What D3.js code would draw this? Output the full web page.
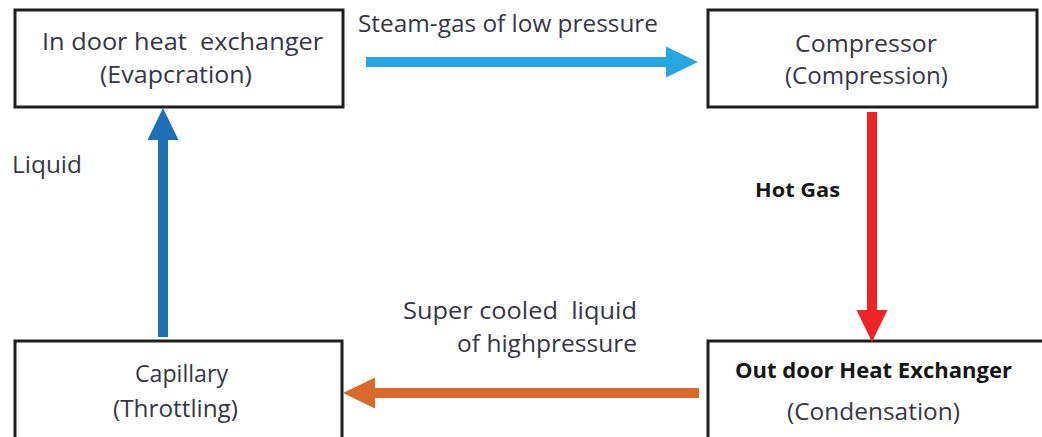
<!DOCTYPE html>
<html><head><meta charset="utf-8">
<script src="https://cdn.jsdelivr.net/npm/d3@7"></script>
<style>html,body{margin:0;padding:0;background:#fff;overflow:hidden}</style>
</head><body>
<svg id="c" width="1042" height="437"></svg>
<script>
// ---- data ----
const nodeNames = ["In door heat  exchanger", "Compressor", "Out door Heat Exchanger", "Capillary"];
const nodeProcesses = ["(Evapcration)", "(Compression)", "(Condensation)", "(Throttling)"];
const flowFrom = [0, 1, 2, 3];
const flowTo = [1, 2, 3, 0];
const flowLabels = [["Steam-gas of low pressure"], ["Hot Gas"], ["Super cooled  liquid", "of highpressure"], ["Liquid"]];

// ---- layout (positions / styles) ----
const svg = d3.select("#c");
const colX = d3.scaleOrdinal().domain([0, 1]).range([15, 708]);
const rowY = d3.scaleOrdinal().domain([0, 1]).range([10, 341]);
const nodeCell = [[0, 0], [1, 0], [1, 1], [0, 1]];
const nodeW = [328, 329, 345, 327];
const nodeH = [97, 97, 120, 120];
const nodeBold = [false, false, true, false];
const titleBox = [[42, 50, 281], [795, 52, 142], [735, 378, 277], [135, 382, 93]];
const procBox = [[100, 83, 152], [785, 84, 163], [787, 420, 173], [113, 417, 125]];
const textCol = "#363646";
const boldCol = "#161616";

const flowColor = ["#27a6e0", "#ee2326", "#d9692c", "#1d6fb6"];
const flowPts = [[[366, 62], [698, 62]], [[872, 112], [872, 342]], [[699, 393], [343, 393]], [[163, 337], [163, 108]]];
const flowBold = [false, true, false, false];
const flowText = [[[358, 32, 300]], [[755, 197, 85]], [[403, 319, 234], [457, 352, 180]], [[12, 173, 70]]];

// boxes
nodeNames.forEach((n, i) => {
  const [c, r] = nodeCell[i];
  svg.append("rect")
    .attr("x", colX(c)).attr("y", rowY(r))
    .attr("width", nodeW[i]).attr("height", nodeH[i])
    .attr("fill", "#fff").attr("stroke", "#1e1e1e").attr("stroke-width", 3);
  const t = titleBox[i], p = procBox[i];
  svg.append("text").text(n)
    .attr("x", t[0]).attr("y", t[1])
    .attr("textLength", t[2]).attr("lengthAdjust", "spacingAndGlyphs")
    .style("white-space", "pre")
    .attr("font-family", "Open Sans").attr("font-size", nodeBold[i] ? 21 : 23)
    .attr("font-weight", nodeBold[i] ? "bold" : "normal")
    .attr("fill", nodeBold[i] ? boldCol : textCol);
  svg.append("text").text(nodeProcesses[i])
    .attr("x", p[0]).attr("y", p[1])
    .attr("textLength", p[2]).attr("lengthAdjust", "spacingAndGlyphs")
    .attr("font-family", "Open Sans").attr("font-size", 23)
    .attr("fill", textCol);
});

// arrows
const shaftW = 10, headL = 32, headW = 31;
flowFrom.forEach((f, i) => {
  const [[x1, y1], [x2, y2]] = flowPts[i];
  const dx = x2 - x1, dy = y2 - y1, L = Math.hypot(dx, dy);
  const ux = dx / L, uy = dy / L, px = -uy, py = ux;
  const bx = x2 - ux * headL, by = y2 - uy * headL;
  svg.append("path")
    .attr("d", d3.line()([[x1, y1], [bx + ux * 2, by + uy * 2]]))
    .attr("stroke", flowColor[i]).attr("stroke-width", shaftW).attr("fill", "none");
  svg.append("path")
    .attr("d", d3.line()([[x2, y2], [bx + px * headW / 2, by + py * headW / 2], [bx - px * headW / 2, by - py * headW / 2]]) + "Z")
    .attr("fill", flowColor[i]);
  flowLabels[i].forEach((s, j) => {
    const t = flowText[i][j];
    svg.append("text").text(s)
      .attr("x", t[0]).attr("y", t[1])
      .attr("textLength", t[2]).attr("lengthAdjust", "spacingAndGlyphs")
      .style("white-space", "pre")
      .attr("font-family", "Open Sans").attr("font-size", flowBold[i] ? 20 : 23)
      .attr("font-weight", flowBold[i] ? "bold" : "normal")
      .attr("fill", flowBold[i] ? boldCol : textCol);
  });
});
</script>
</body></html>
